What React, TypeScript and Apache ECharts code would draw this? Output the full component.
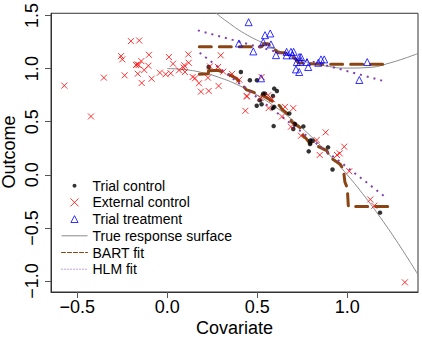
import React, { useEffect, useRef } from 'react';
import * as echarts from 'echarts';

const FONT = '"Liberation Sans", Arial, Helvetica, sans-serif';

const xTicks = [-0.5, 0, 0.5, 1.0];
const yTicks = [-1.0, -0.5, 0, 0.5, 1.0, 1.5];

const trialControl: number[][] = [
  [0.23, 1.015], [0.409, 0.968], [0.459, 0.89], [0.498, 0.89], [0.533, 0.765], [0.543, 0.765],
  [0.594, 0.812], [0.609, 0.79], [0.587, 0.743], [0.513, 0.703], [0.524, 0.665], [0.497, 0.65],
  [0.586, 0.628], [0.594, 0.64], [0.678, 0.578], [0.591, 0.459], [0.7, 0.431], [0.709, 0.478],
  [0.756, 0.456], [0.794, 0.321], [0.808, 0.321], [0.793, 0.29], [0.786, 0.221], [0.893, 0.259],
  [0.918, 0.05], [1.182, -0.356],
];

const externalControl: number[][] = [
  [-0.572, 0.84], [-0.424, 0.55], [-0.352, 0.915], [-0.257, 1.118], [-0.25, 1.087], [-0.202, 1.259],
  [-0.156, 1.265], [-0.237, 0.937], [-0.174, 1.034], [-0.167, 1.04], [-0.159, 1.034], [-0.144, 1.071],
  [-0.164, 0.952], [-0.128, 0.987], [-0.102, 1.13], [-0.105, 1.027], [-0.142, 0.865], [-0.087, 0.905],
  [-0.041, 0.962], [-0.009, 0.947], [0.019, 0.956], [0.009, 1.109], [0.032, 1.046], [0.065, 0.984],
  [0.091, 1.009], [0.098, 0.968], [0.094, 1.031], [0.117, 1.134], [0.119, 1.055], [0.154, 0.909],
  [0.141, 0.921], [0.176, 0.862], [0.187, 0.783], [0.23, 0.79], [0.226, 0.915], [0.237, 1.021],
  [0.297, 1.125], [0.282, 1.015], [0.311, 0.971], [0.36, 0.95], [0.441, 0.743], [0.285, 0.837],
  [0.524, 0.921], [0.4, 0.896], [0.443, 0.737], [0.434, 0.603], [0.563, 0.628], [0.582, 0.712],
  [0.519, 0.722], [0.561, 0.75], [0.654, 0.64], [0.7, 0.628], [0.637, 0.549], [0.687, 0.453],
  [0.743, 0.368], [0.83, 0.328], [0.88, 0.4], [0.983, 0.265], [0.847, 0.187], [0.943, 0.187],
  [0.958, 0.202], [1.011, 0.034], [1.128, -0.232], [1.15, -0.291], [1.32, -1.012],
];

const trialTreatment: number[][] = [
  [0.452, 1.437], [0.543, 1.315], [0.572, 1.331], [0.533, 1.249], [0.398, 1.237], [0.478, 1.162],
  [0.576, 1.228], [0.604, 1.127], [0.663, 1.158], [0.687, 1.158], [0.702, 1.158], [0.663, 1.125],
  [0.697, 1.125], [0.733, 1.109], [0.743, 1.109], [0.72, 1.062], [0.739, 1.062], [0.776, 1.062],
  [0.715, 0.993], [0.733, 0.968], [0.783, 1.015], [0.839, 1.055], [0.854, 1.087], [0.872, 1.087],
  [1.111, 1.062], [1.067, 0.893], [0.521, 0.909],
];

const trueControl: number[][] = [
  [0, 1.0], [0.1, 0.99], [0.2, 0.96], [0.3, 0.91], [0.4, 0.84], [0.5, 0.75], [0.6, 0.64],
  [0.7, 0.51], [0.8, 0.36], [0.9, 0.19], [1.0, 0.0], [1.1, -0.21], [1.2, -0.44], [1.3, -0.69],
  [1.393, -0.94],
];

const trueTreatment: number[][] = [
  [0.265, 1.53], [0.33, 1.445], [0.43, 1.33], [0.54, 1.235], [0.65, 1.145], [0.75, 1.075],
  [0.88, 1.025], [1.0, 1.005], [1.11, 1.01], [1.24, 1.055], [1.393, 1.143],
];

const bartControl: number[][] = [
  [0.178, 0.947], [0.228, 0.952], [0.232, 1.02], [0.24, 0.98], [0.283, 0.984], [0.348, 0.939],
  [0.382, 0.909], [0.422, 0.837], [0.44, 0.8], [0.459, 0.79], [0.533, 0.743], [0.552, 0.727],
  [0.626, 0.649], [0.636, 0.619], [0.682, 0.556], [0.69, 0.5], [0.737, 0.446], [0.747, 0.384],
  [0.774, 0.337], [0.79, 0.3], [0.83, 0.275], [0.886, 0.228], [0.904, 0.165], [0.959, 0.103],
  [0.978, 0.056], [0.987, -0.069], [1.0, -0.122], [1.006, -0.297], [1.237, -0.297],
];

const bartTreatment: number[][] = [
  [0.178, 1.205], [0.525, 1.205], [0.535, 1.233], [0.56, 1.233], [0.617, 1.149], [0.654, 1.149],
  [0.709, 1.096], [0.728, 1.055], [0.802, 1.046], [0.9, 1.04], [1.197, 1.04],
];

const hlmControl: number[][] = [[0.18, 1.15], [1.22, -0.22]];
const hlmTreatment: number[][] = [[0.17, 1.36], [1.2, 0.884]];

const fmt = (v: number) => {
  const s = Math.abs(v).toFixed(1);
  return v < 0 ? '\u2212' + s : s;
};

const BROWN = '#8B4513';
const PURPLE = '#8040B0';
const GRAY = '#8a8a8a';
const AXIS = '#333';
const X_PATH = 'path://M0,0L10,10M10,0L0,10';
const HIDE_SYMBOL = { color: 'transparent', borderWidth: 0, opacity: 0 };

export default function App() {
  const ref = useRef<HTMLDivElement>(null);
  useEffect(() => {
    if (!ref.current) return;
    const chart = echarts.init(ref.current, null, { renderer: 'svg' });
    const option: any = {
      animation: false,
      textStyle: { fontFamily: FONT },
      grid: { left: 51, top: 12, right: 4, bottom: 46, show: true, borderColor: AXIS, borderWidth: 1 },
      xAxis: {
        type: 'value', min: -0.646, max: 1.393,
        axisLine: { show: true, onZero: false, lineStyle: { color: AXIS, width: 1 } }, splitLine: { show: false },
        axisTick: { show: true, customValues: xTicks, length: 6, lineStyle: { color: '#555' } },
        axisLabel: { customValues: xTicks, formatter: fmt, fontSize: 18, color: '#000', margin: 6, fontFamily: FONT },
      },
      yAxis: {
        type: 'value', min: -1.103, max: 1.521,
        axisLine: { show: true, onZero: false, lineStyle: { color: AXIS, width: 1 } }, splitLine: { show: false },
        axisTick: { show: true, customValues: yTicks, length: 6, lineStyle: { color: '#555' } },
        axisLabel: { customValues: yTicks, formatter: fmt, fontSize: 18, color: '#000', margin: 10, rotate: 90, fontFamily: FONT },
      },
      legend: {
        orient: 'vertical', left: 61, top: 177.7, itemWidth: 26, itemHeight: 8, itemGap: 0.7,
        padding: 0, selectedMode: false,
        textStyle: { fontSize: 14, color: '#000', lineHeight: 16, fontFamily: FONT },
        data: [
          { name: 'Trial control', icon: 'path://M0,0M8,8M2,4a2,2 0 1,0 4,0a2,2 0 1,0 -4,0Z' },
          { name: 'External control', icon: 'path://M0,0L8,8M8,0L0,8', itemStyle: { borderWidth: 1 } },
          { name: 'Trial treatment', icon: 'path://M0,0M8,8M4,0.6L7.6,7.4L0.4,7.4Z', itemStyle: { borderWidth: 1 } },
          { name: 'True response surface', lineStyle: { width: 1 }, itemStyle: HIDE_SYMBOL },
          { name: 'BART fit', lineStyle: { width: 1, type: [4, 2] }, itemStyle: HIDE_SYMBOL },
          { name: 'HLM fit', lineStyle: { width: 1, type: [1, 2] }, itemStyle: HIDE_SYMBOL },
        ],
      },
      graphic: [
        {
          type: 'text', x: 234.5, y: 328,
          style: { text: 'Covariate', fontSize: 18, fontFamily: FONT, fill: '#000', align: 'center', verticalAlign: 'middle', textAlign: 'center', textVerticalAlign: 'middle' },
        },
        {
          type: 'text', x: 9, y: 152, rotation: Math.PI / 2,
          style: { text: 'Outcome', fontSize: 18, fontFamily: FONT, fill: '#000', align: 'center', verticalAlign: 'middle', textAlign: 'center', textVerticalAlign: 'middle' },
        },
      ],
      series: [
        {
          name: 'True response surface', type: 'line', data: trueControl, smooth: true, symbol: 'none',
          lineStyle: { color: GRAY, width: 1 }, itemStyle: { color: GRAY }, z: 2,
        },
        {
          name: 'True response surface', type: 'line', data: trueTreatment, smooth: true, symbol: 'none',
          lineStyle: { color: GRAY, width: 1 }, itemStyle: { color: GRAY }, z: 2,
        },
        {
          name: 'BART fit', type: 'line', data: bartControl, symbol: 'none',
          lineStyle: { color: BROWN, width: 3, type: [12, 8], cap: 'round' }, itemStyle: { color: BROWN }, z: 3,
        },
        {
          name: 'BART fit', type: 'line', data: bartTreatment, symbol: 'none',
          lineStyle: { color: BROWN, width: 3, type: [12, 8], cap: 'round' }, itemStyle: { color: BROWN }, z: 3,
        },
        {
          name: 'HLM fit', type: 'line', data: hlmControl, symbol: 'none',
          lineStyle: { color: PURPLE, width: 2, type: [2, 5] }, itemStyle: { color: PURPLE }, z: 3,
        },
        {
          name: 'HLM fit', type: 'line', data: hlmTreatment, symbol: 'none',
          lineStyle: { color: PURPLE, width: 2, type: [2, 5] }, itemStyle: { color: PURPLE }, z: 3,
        },
        {
          name: 'Trial control', type: 'scatter', data: trialControl, symbol: 'circle', symbolSize: 4.5,
          itemStyle: { color: '#000' }, z: 4,
        },
        {
          name: 'External control', type: 'scatter', data: externalControl, symbol: X_PATH, symbolSize: 6,
          itemStyle: { color: 'transparent', borderColor: '#FF0000', borderWidth: 1 }, z: 4,
        },
        {
          name: 'Trial treatment', type: 'scatter', data: trialTreatment, symbol: 'triangle', symbolSize: 7,
          itemStyle: { color: 'transparent', borderColor: '#0000FF', borderWidth: 1 }, z: 4,
        },
      ],
    };
    chart.setOption(option);
    return () => chart.dispose();
  }, []);
  return <div ref={ref} style={{ position: 'absolute', left: 0, top: 0, width: 422, height: 338, background: '#fff' }} />;
}
